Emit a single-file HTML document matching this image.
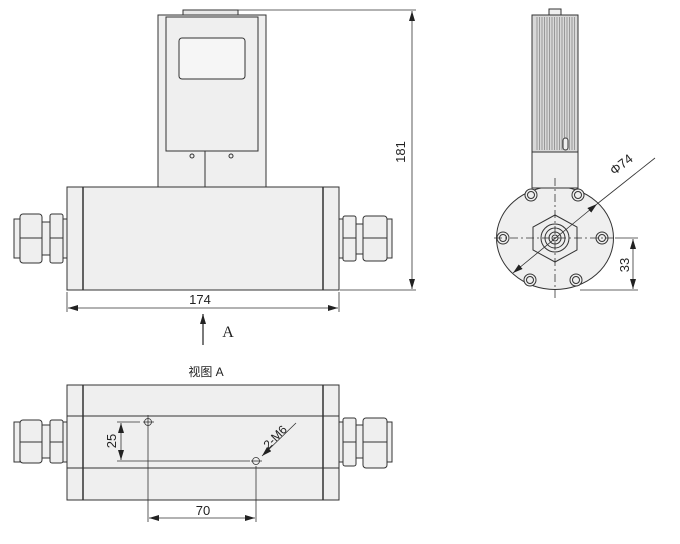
<!DOCTYPE html>
<html><head><style>body{margin:0;background:#fff}svg{display:block}text{font-family:"Liberation Sans","Noto Sans CJK SC",sans-serif;fill:#222}</style></head><body>
<svg width="680" height="544" viewBox="0 0 680 544" xmlns="http://www.w3.org/2000/svg">
<defs><marker id="ar" markerWidth="10" markerHeight="6" refX="10" refY="3" orient="auto-start-reverse" markerUnits="userSpaceOnUse"><path d="M0,0 L10,3 L0,6z" fill="#222"/></marker></defs>
<g stroke="#333" stroke-width="1" fill="#efefef">
<rect x="183" y="10" width="55" height="5" fill="#e8e8e8"/>
<rect x="158" y="15" width="108" height="172"/>
<rect x="166" y="17" width="92" height="134"/>
<rect x="179" y="38" width="66" height="41" rx="3" fill="#f6f6f6"/>
<line x1="205" y1="151" x2="205" y2="187"/>
<circle cx="192" cy="156" r="2" fill="none"/><circle cx="231" cy="156" r="2" fill="none"/>
<rect x="67" y="187" width="272" height="103"/>
<line x1="83" y1="187" x2="83" y2="290" stroke-width="1.5"/><line x1="323" y1="187" x2="323" y2="290" stroke-width="1.5"/>
<rect x="14" y="219" width="6" height="39"/><rect x="20" y="214" width="22" height="49" rx="3"/><line x1="20" y1="238" x2="42" y2="238"/>
<rect x="42" y="222" width="8" height="33"/><rect x="50" y="214" width="13" height="49" rx="2"/><line x1="50" y1="238" x2="63" y2="238"/><rect x="63" y="219" width="4" height="39"/>
<rect x="339" y="219" width="4" height="39"/><rect x="343" y="216" width="13" height="45" rx="2"/><line x1="343" y1="238" x2="356" y2="238"/>
<rect x="356" y="224" width="7" height="30"/><rect x="363" y="216" width="24" height="45" rx="3"/><line x1="363" y1="238" x2="387" y2="238"/><rect x="387" y="219" width="5" height="39"/>
<rect x="67" y="385" width="272" height="115"/>
<line x1="67" y1="416" x2="339" y2="416"/><line x1="67" y1="468" x2="339" y2="468"/>
<line x1="83" y1="385" x2="83" y2="500" stroke-width="1.5"/><line x1="323" y1="385" x2="323" y2="500" stroke-width="1.5"/>
<rect x="14" y="422" width="6" height="40"/><rect x="20" y="420" width="22" height="43" rx="3"/><line x1="20" y1="442" x2="42" y2="442"/>
<rect x="42" y="425" width="8" height="33"/><rect x="50" y="420" width="13" height="43" rx="2"/><line x1="50" y1="442" x2="63" y2="442"/><rect x="63" y="422" width="4" height="40"/>
<rect x="339" y="422" width="4" height="40"/><rect x="343" y="418" width="13" height="48" rx="2"/><line x1="343" y1="442" x2="356" y2="442"/>
<rect x="356" y="425" width="7" height="33"/><rect x="363" y="418" width="24" height="50" rx="3"/><line x1="363" y1="442" x2="387" y2="442"/><rect x="387" y="422" width="5" height="40"/>
<ellipse cx="555" cy="238" rx="58.5" ry="51.5"/>
<rect x="549" y="9" width="12" height="6"/>
<rect x="532" y="15" width="46" height="137" fill="#d8d8d8"/>
<rect x="532" y="152" width="46" height="36"/>
<polygon points="555,215 577,227 577,250 555,262 533,250 533,227" fill="#eee"/>
</g>
<g stroke="#888" stroke-width="0.8">
<line x1="537" y1="17" x2="537" y2="150"/><line x1="539.5" y1="17" x2="539.5" y2="150"/><line x1="542" y1="17" x2="542" y2="150"/><line x1="544.5" y1="17" x2="544.5" y2="150"/><line x1="547" y1="17" x2="547" y2="150"/><line x1="549.5" y1="17" x2="549.5" y2="150"/><line x1="552" y1="17" x2="552" y2="150"/><line x1="554.5" y1="17" x2="554.5" y2="150"/><line x1="557" y1="17" x2="557" y2="150"/><line x1="559.5" y1="17" x2="559.5" y2="150"/><line x1="562" y1="17" x2="562" y2="150"/><line x1="564.5" y1="17" x2="564.5" y2="150"/><line x1="567" y1="17" x2="567" y2="150"/><line x1="569.5" y1="17" x2="569.5" y2="150"/><line x1="572" y1="17" x2="572" y2="150"/><line x1="574.5" y1="17" x2="574.5" y2="150"/>
</g>
<g stroke="#333" fill="#efefef" stroke-width="1">
<rect x="563" y="138" width="5" height="12" rx="2.5"/>
<circle cx="531" cy="195" r="6"/><circle cx="531" cy="195" r="3.5"/>
<circle cx="578" cy="195" r="6"/><circle cx="578" cy="195" r="3.5"/>
<circle cx="503" cy="238" r="6"/><circle cx="503" cy="238" r="3.5"/>
<circle cx="602" cy="238" r="6"/><circle cx="602" cy="238" r="3.5"/>
<circle cx="530" cy="280" r="6"/><circle cx="530" cy="280" r="3.5"/>
<circle cx="576" cy="280" r="6"/><circle cx="576" cy="280" r="3.5"/>
<circle cx="555" cy="238" r="14" fill="none"/><circle cx="555" cy="238" r="10" fill="none"/><circle cx="555" cy="238" r="6" fill="none"/><circle cx="555" cy="238" r="3" fill="none"/>
</g>
<g stroke="#333" stroke-width="0.8" fill="none">
<line x1="555" y1="178" x2="555" y2="300" stroke-dasharray="8,3,2,3"/>
<line x1="494" y1="238" x2="615" y2="238" stroke-dasharray="8,3,2,3"/>
<line x1="238" y1="10" x2="416" y2="10"/><line x1="340" y1="290" x2="416" y2="290"/>
<line x1="412" y1="11" x2="412" y2="289" marker-start="url(#ar)" marker-end="url(#ar)"/>
<line x1="67" y1="292" x2="67" y2="312"/><line x1="339" y1="292" x2="339" y2="312"/>
<line x1="68" y1="308" x2="338" y2="308" marker-start="url(#ar)" marker-end="url(#ar)"/>
<line x1="203" y1="345" x2="203" y2="314" stroke-width="1.3" marker-end="url(#ar)"/>
<line x1="615" y1="238" x2="638" y2="238"/><line x1="580" y1="290" x2="638" y2="290"/>
<line x1="633" y1="239" x2="633" y2="289" marker-start="url(#ar)" marker-end="url(#ar)"/>
<line x1="513" y1="273" x2="597" y2="204" marker-start="url(#ar)" marker-end="url(#ar)"/><line x1="597" y1="204" x2="655" y2="158"/>
<line x1="148" y1="415" x2="148" y2="522"/><line x1="256" y1="466" x2="256" y2="522"/>
<line x1="149" y1="518" x2="255" y2="518" marker-start="url(#ar)" marker-end="url(#ar)"/>
<line x1="117" y1="422" x2="140" y2="422"/><line x1="117" y1="461" x2="250" y2="461"/>
<line x1="121" y1="423" x2="121" y2="460" marker-start="url(#ar)" marker-end="url(#ar)"/>
<line x1="296" y1="423" x2="262" y2="456" marker-end="url(#ar)"/>
<circle cx="148" cy="422" r="3.5"/><line x1="143" y1="422" x2="154" y2="422"/>
<circle cx="256" cy="461" r="3.5"/><line x1="251" y1="461" x2="262" y2="461"/>
</g>
<text x="405" y="152" font-size="13" text-anchor="middle" transform="rotate(-90 405 152)">181</text>
<text x="200" y="304" font-size="13" text-anchor="middle">174</text>
<text x="228" y="337" font-size="16" style="font-family:'Liberation Serif',serif" text-anchor="middle">A</text>
<text x="206" y="376" font-size="12" text-anchor="middle">视图 A</text>
<text x="624" y="168" font-size="13" text-anchor="middle" transform="rotate(-38 624 168)">Φ74</text>
<text x="629" y="265" font-size="13" text-anchor="middle" transform="rotate(-90 629 265)">33</text>
<text x="116" y="441" font-size="13" text-anchor="middle" transform="rotate(-90 116 441)">25</text>
<text x="203" y="515" font-size="13" text-anchor="middle">70</text>
<text x="278" y="440" font-size="12" text-anchor="middle" transform="rotate(-45 278 440)">2-M6</text>
</svg>
</body></html>
